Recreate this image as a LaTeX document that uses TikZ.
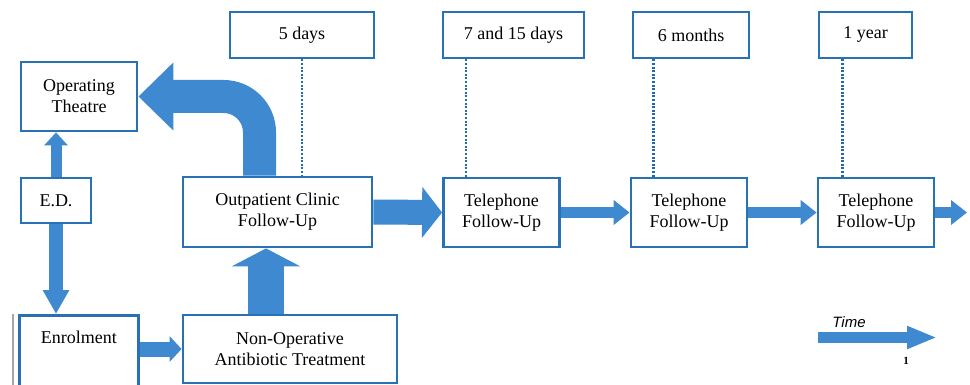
\documentclass[tikz,border=0pt]{standalone}
\usepackage{fontspec}
\setmainfont{Liberation Serif}
\setsansfont{Liberation Sans}
\usetikzlibrary{arrows.meta}
\definecolor{boxblue}{RGB}{41,113,181}
\definecolor{arrblue}{RGB}{62,137,207}
\definecolor{dotblue}{RGB}{38,105,170}
\begin{document}
\begin{tikzpicture}[x=1pt,y=-1pt,
  box/.style={draw=boxblue, line width=2.8pt, fill=white, align=center,
    font=\fontsize{18}{21}\selectfont, inner sep=0pt},
  datebox/.style={box, minimum height=46pt},
  telbox/.style={box, minimum width=116pt, minimum height=69pt},
  fat/.style={arrblue, line width=#1},
  dots/.style={dotblue, line width=2.4pt, dash pattern=on 2pt off 1.6pt}]
\useasboundingbox (0,0) rectangle (970,385);
% left column
\node[box, minimum width=116pt, minimum height=69pt] at (79,96.5) (ot) {Operating\\Theatre};
\node[box, minimum width=70pt, minimum height=45pt] at (56,200.5) (ed) {E.D.};
\draw[gray!70, line width=2pt] (13,314) -- (13,390);
\node[box, anchor=north west, minimum width=119pt, text height=28pt, text depth=53pt] at (18,314) (enr) {Enrolment};
% clinic and treatment
\node[box, minimum width=189pt, minimum height=70pt] at (277.5,212) (opc) {Outpatient Clinic\\Follow-Up};
\node[box, minimum width=214pt, minimum height=68pt] at (290,349) (nonop) {Non-Operative\\Antibiotic Treatment};
% time points
\node[datebox, minimum width=144pt] at (302,35) (d5) {5 days};
\node[datebox, minimum width=141pt] at (513.5,35) (d7) {7 and 15 days};
\node[datebox, minimum width=116pt] at (691,35) (d6) {6 months};
\node[datebox, minimum width=93pt] at (865.5,35) (d1) {1 year};
\node[telbox] at (501.5,212.5) (tel1) {Telephone\\Follow-Up};
\node[telbox] at (689,212.5) (tel2) {Telephone\\Follow-Up};
\node[telbox] at (876,212.5) (tel3) {Telephone\\Follow-Up};
% dotted links
\draw[dots] (d5.south) -- (d5.south |- opc.north);
\draw[dots] ([xshift=24pt]tel1.north west) -- ([xshift=24pt]tel1.north west |- d7.south);
\draw[dots] ([xshift=24pt]tel2.north west) -- ([xshift=24pt]tel2.north west |- d6.south);
\draw[dots] ([xshift=26pt]tel3.north west) -- ([xshift=26pt]tel3.north west |- d1.south);
% block arrows
\draw[fat=11pt, -{Triangle[width=23pt,length=13pt]}] (ed.north) -- (ed.north |- ot.south);
\draw[fat=14pt, -{Triangle[width=25pt,length=24pt]}] (ed.south) -- (ed.south |- enr.north);
\draw[fat=15pt, -{Triangle[width=25pt,length=12pt]}] (nonop.west -| enr.east) -- (nonop.west);
\draw[fat=36pt, -{Triangle[width=68pt,length=18pt]}] ([xshift=-24pt]nonop.north) -- ([xshift=-24pt]nonop.north |- opc.south);
\draw[fat=33pt, rounded corners=36pt, -{Triangle[width=66pt,length=35pt]}] ([xshift=-18pt]opc.north) |- (ot.east);
\draw[fat=25pt, -{Triangle[width=50pt,length=20pt]}] (opc.east) -- (tel1.west);
\draw[fat=11pt, -{Triangle[width=24pt,length=16pt]}] (tel1.east) -- (tel2.west);
\draw[fat=11pt, -{Triangle[width=24pt,length=16pt]}] (tel2.east) -- (tel3.west);
\coordinate (tend) at (967,212.5);
\draw[fat=11pt, -{Triangle[width=24pt,length=16pt]}] (tel3.east) -- (tend);
% time legend
\coordinate (t0) at (818,337.5);
\coordinate (t1) at (937,337.5);
\draw[fat=11pt, -{Triangle[width=21pt,length=30pt]}] (t0) -- (t1);
\node[font=\fontsize{15}{17}\selectfont\sffamily\itshape] at (849,322) (timelbl) {Time};
\node[font=\fontsize{11}{12}\selectfont\bfseries] at (906,361) (tick) {1};
\end{tikzpicture}
\end{document}
